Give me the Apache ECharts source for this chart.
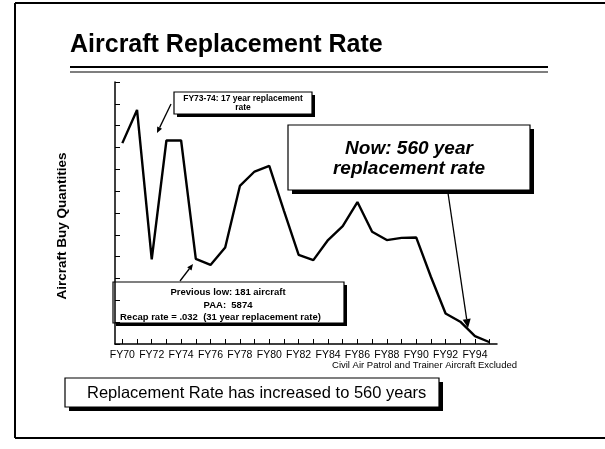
<!DOCTYPE html>
<html>
<head>
<meta charset="utf-8">
<script src="https://cdn.jsdelivr.net/npm/echarts@6/dist/echarts.min.js"></script>
<style>
  html, body { margin: 0; padding: 0; background: #fff; }
  #chart { width: 605px; height: 449px; }
</style>
</head>
<body>
<div id="chart"></div>
<script>
// Fiscal years on the horizontal axis
const fiscalYears = ['FY70','FY71','FY72','FY73','FY74','FY75','FY76','FY77','FY78','FY79',
  'FY80','FY81','FY82','FY83','FY84','FY85','FY86','FY87','FY88','FY89',
  'FY90','FY91','FY92','FY93','FY94','FY95'];
// Aircraft bought per fiscal year
const buyQuantities = [460, 536, 194, 466, 466, 195, 181, 221, 362, 395,
  408, 305, 204, 192, 238, 270, 325, 257, 238, 243,
  244, 154, 70, 51, 18, 4];
// Quantity scale (tick marks only, unlabeled)
const qtyMin = 0, qtyMax = 600, qtyStep = 50;

const FONT = 'Liberation Sans, Arial, Helvetica, sans-serif';

// box with a solid drop shadow to the lower right
function shadowBox(x, y, w, h, s) {
  return [
    { type: 'rect', shape: { x: x + s, y: y + s, width: w, height: h }, style: { fill: '#000' }, silent: true },
    { type: 'rect', shape: { x: x, y: y, width: w, height: h }, style: { fill: '#fff', stroke: '#000', lineWidth: 1.2 }, silent: true }
  ];
}
function label(text, x, y, opts) {
  return { type: 'text', silent: true, style: Object.assign({
    text: text, x: x, y: y, fill: '#000', font: 'bold 9.5px ' + FONT,
    textAlign: 'center', textVerticalAlign: 'middle'
  }, opts || {}) };
}
function arrow(x1, y1, x2, y2, head) {
  const a = Math.atan2(y2 - y1, x2 - x1);
  const h = head, w = head * 0.45;
  const bx = x2 - h * Math.cos(a), by = y2 - h * Math.sin(a);
  const px = -Math.sin(a) * w, py = Math.cos(a) * w;
  return [
    { type: 'line', silent: true, shape: { x1: x1, y1: y1, x2: bx, y2: by }, style: { stroke: '#000', lineWidth: 1.3 } },
    { type: 'polygon', silent: true, shape: { points: [[x2, y2], [bx + px, by + py], [bx - px, by - py]] }, style: { fill: '#000' } }
  ];
}

// vertical axis title, turned to read bottom-to-top
const axisTitle = label('Aircraft Buy Quantities', 0, 0, { font: 'bold 13.5px ' + FONT });
axisTitle.x = 62;
axisTitle.y = 226;
axisTitle.rotation = Math.PI / 2;

const graphics = [].concat(
  // slide frame
  [
    { type: 'line', silent: true, shape: { x1: 15, y1: 3, x2: 605, y2: 3 }, style: { stroke: '#000', lineWidth: 2 } },
    { type: 'line', silent: true, shape: { x1: 15, y1: 3, x2: 15, y2: 438 }, style: { stroke: '#000', lineWidth: 2 } },
    { type: 'line', silent: true, shape: { x1: 15, y1: 438, x2: 605, y2: 438 }, style: { stroke: '#000', lineWidth: 2 } },
    // title and its double rule
    label('Aircraft Replacement Rate', 70, 45, { font: 'bold 25px ' + FONT, textAlign: 'left' }),
    { type: 'line', silent: true, shape: { x1: 70, y1: 67, x2: 548, y2: 67 }, style: { stroke: '#000', lineWidth: 2.2 } },
    { type: 'line', silent: true, shape: { x1: 70, y1: 72, x2: 548, y2: 72 }, style: { stroke: '#000', lineWidth: 1.2 } },
    axisTitle
  ],
  // FY73-74 callout
  shadowBox(174, 92, 138, 22, 3),
  [
    label('FY73-74: 17 year replacement', 243, 98.5, { font: 'bold 8.5px ' + FONT }),
    label('rate', 243, 108, { font: 'bold 8.5px ' + FONT })
  ],
  arrow(171, 104, 157, 133, 6),
  // "Now" callout
  shadowBox(288, 125, 242, 65, 4),
  [
    label('Now: 560 year', 409, 149, { font: 'italic bold 19px ' + FONT }),
    label('replacement rate', 409, 169, { font: 'italic bold 19px ' + FONT })
  ],
  arrow(448, 193, 468, 328, 9),
  // previous low callout
  shadowBox(113, 282, 231, 41, 3),
  [
    label('Previous low: 181 aircraft', 228, 292),
    label('PAA:  5874', 228, 305),
    label('Recap rate = .032  (31 year replacement rate)', 120, 317, { textAlign: 'left' })
  ],
  arrow(180, 281, 193, 264, 6),
  // footnote
  [
    label('Civil Air Patrol and Trainer Aircraft Excluded', 517, 365, { font: '9.5px ' + FONT, textAlign: 'right' })
  ],
  // conclusion banner
  shadowBox(65, 378, 374, 29, 4),
  [
    label('Replacement Rate has increased to 560 years', 87, 393, { font: '16.5px ' + FONT, textAlign: 'left' })
  ]
);

const chart = echarts.init(document.getElementById('chart'), null, { renderer: 'canvas' });
chart.setOption({
  animation: false,
  backgroundColor: '#fff',
  grid: { left: 115, right: 108, top: 82, bottom: 105 },
  xAxis: {
    type: 'category',
    data: fiscalYears,
    boundaryGap: true,
    axisLine: { lineStyle: { color: '#000', width: 1.5 } },
    axisTick: { show: true, inside: true, alignWithLabel: true, interval: 0, length: 5, lineStyle: { color: '#000', width: 1 } },
    axisLabel: { interval: 1, color: '#000', fontSize: 10.5, fontFamily: FONT, margin: 6 },
    splitLine: { show: false }
  },
  yAxis: {
    type: 'value',
    min: qtyMin, max: qtyMax, interval: qtyStep,
    axisLine: { show: true, lineStyle: { color: '#000', width: 1.5 } },
    axisTick: { show: true, inside: true, length: 5, lineStyle: { color: '#000', width: 1 } },
    axisLabel: { show: false },
    splitLine: { show: false }
  },
  series: [{
    type: 'line',
    data: buyQuantities,
    showSymbol: false,
    lineStyle: { color: '#000', width: 2.4 },
    z: 1
  }],
  graphic: { elements: graphics }
});
</script>
</body>
</html>
